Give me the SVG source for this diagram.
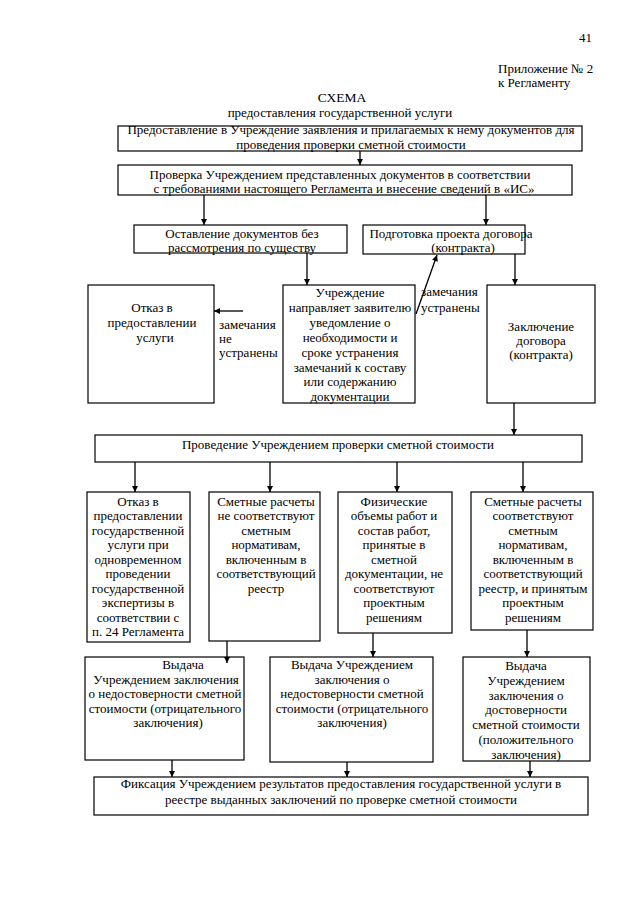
<svg xmlns="http://www.w3.org/2000/svg" width="640" height="905" viewBox="0 0 640 905">
<style>
.bg{fill:#fff}
.box{fill:#fff;stroke:#000;stroke-width:1.2}
.t{font-family:"Liberation Serif","Times New Roman",serif;font-size:13px;fill:#000;text-anchor:middle}
.l{text-anchor:start}
.h{font-family:"Liberation Serif","Times New Roman",serif;font-size:13px;fill:#000}
.c{stroke:#000;stroke-width:1.3;fill:none;marker-end:url(#ah)}
</style>
<defs>
<marker id="ah" viewBox="0 0 10 10" refX="10" refY="5" markerWidth="7" markerHeight="6" markerUnits="userSpaceOnUse" orient="auto">
<path d="M0,0 L10,5 L0,10 z" fill="#000"/>
</marker>
</defs>
<rect class="bg" x="0" y="0" width="640" height="905"/>
<g id="header">
<text class="h" x="592" y="42" text-anchor="end">41</text>
<text class="h" x="498" y="73">Приложение № 2</text>
<text class="h" x="498" y="87">к Регламенту</text>
<text class="h" x="342" y="102" text-anchor="middle" style="font-size:13.5px">СХЕМА</text>
<text class="t" x="340" y="116.5">предоставления государственной услуги</text>
</g>
<g id="n1">
<rect class="box" x="118" y="126" width="464" height="25"/>
<text class="t" x="351" y="134">Предоставление в Учреждение заявления и прилагаемых к нему документов для</text>
<text class="t" x="351" y="148.5">проведения проверки сметной стоимости</text>
</g>
<g id="n2">
<rect class="box" x="118" y="165" width="454" height="30"/>
<text class="t" x="340" y="178.5">Проверка Учреждением представленных документов в соответствии</text>
<text class="t" x="344" y="193">с требованиями настоящего Регламента и внесение сведений в «ИС»</text>
</g>
<g id="n3">
<rect class="box" x="134" y="225" width="213" height="28"/>
<text class="t" x="242" y="237.5">Оставление документов без</text>
<text class="t" x="242" y="252">рассмотрения по существу</text>
</g>
<g id="n4">
<rect class="box" x="363" y="225" width="162" height="29"/>
<text class="t" x="451" y="237.5">Подготовка проекта договора</text>
<text class="t" x="463" y="252">(контракта)</text>
</g>
<g id="n5">
<rect class="box" x="88" y="285" width="126" height="118"/>
<text class="t" x="152" y="312">Отказ в</text>
<text class="t" x="152" y="327">предоставлении</text>
<text class="t" x="155" y="342">услуги</text>
</g>
<g id="n6">
<rect class="box" x="283" y="285" width="132" height="118"/>
<text class="t" x="350" y="297">Учреждение</text>
<text class="t" x="350" y="312">направляет заявителю</text>
<text class="t" x="350" y="327">уведомление о</text>
<text class="t" x="350" y="342">необходимости и</text>
<text class="t" x="350" y="356.8">сроке устранения</text>
<text class="t" x="350" y="371.6">замечаний к составу</text>
<text class="t" x="350" y="386.4">или содержанию</text>
<text class="t" x="350" y="401.2">документации</text>
</g>
<g id="n7">
<rect class="box" x="487" y="285" width="108" height="118"/>
<text class="t" x="541" y="330.6">Заключение</text>
<text class="t" x="541" y="345">договора</text>
<text class="t" x="541" y="359.4">(контракта)</text>
</g>
<g id="labels">
<text class="t l" x="219" y="328.6">замечания</text>
<text class="t l" x="219" y="343">не</text>
<text class="t l" x="219" y="357.4">устранены</text>
<text class="t l" x="421" y="296">замечания</text>
<text class="t l" x="421" y="312">устранены</text>
</g>
<g id="n8">
<rect class="box" x="95" y="435" width="487" height="27"/>
<text class="t" x="338" y="449">Проведение Учреждением проверки сметной стоимости</text>
</g>
<g id="n9">
<rect class="box" x="87" y="492" width="103" height="150"/>
<text class="t" x="138" y="506">Отказ в</text>
<text class="t" x="138" y="520.45">предоставлении</text>
<text class="t" x="138" y="534.9">государственной</text>
<text class="t" x="138" y="549.35">услуги при</text>
<text class="t" x="138" y="563.8">одновременном</text>
<text class="t" x="138" y="578.25">проведении</text>
<text class="t" x="138" y="592.7">государственной</text>
<text class="t" x="138" y="607.15">экспертизы в</text>
<text class="t" x="138" y="621.6">соответствии с</text>
<text class="t" x="138" y="636.05">п. 24 Регламента</text>
</g>
<g id="n10">
<rect class="box" x="209" y="492" width="111" height="149"/>
<text class="t" x="266" y="506">Сметные расчеты</text>
<text class="t" x="266" y="520.45">не соответствуют</text>
<text class="t" x="266" y="534.9">сметным</text>
<text class="t" x="266" y="549.35">нормативам,</text>
<text class="t" x="266" y="563.8">включенным в</text>
<text class="t" x="266" y="578.25">соответствующий</text>
<text class="t" x="266" y="592.7">реестр</text>
</g>
<g id="n11">
<rect class="box" x="338" y="492" width="114" height="141"/>
<text class="t" x="394" y="506">Физические</text>
<text class="t" x="394" y="520.45">объемы работ и</text>
<text class="t" x="394" y="534.9">состав работ,</text>
<text class="t" x="394" y="549.35">принятые в</text>
<text class="t" x="394" y="563.8">сметной</text>
<text class="t" x="394" y="578.25">документации, не</text>
<text class="t" x="394" y="592.7">соответствуют</text>
<text class="t" x="394" y="607.15">проектным</text>
<text class="t" x="394" y="621.6">решениям</text>
</g>
<g id="n12">
<rect class="box" x="471" y="492" width="122" height="138"/>
<text class="t" x="533" y="506">Сметные расчеты</text>
<text class="t" x="533" y="520.45">соответствуют</text>
<text class="t" x="533" y="534.9">сметным</text>
<text class="t" x="533" y="549.35">нормативам,</text>
<text class="t" x="533" y="563.8">включенным в</text>
<text class="t" x="533" y="578.25">соответствующий</text>
<text class="t" x="533" y="592.7">реестр, и принятым</text>
<text class="t" x="533" y="607.15">проектным</text>
<text class="t" x="533" y="621.6">решениям</text>
</g>
<g id="n13">
<rect class="box" x="85" y="657" width="159" height="103"/>
<text class="t" x="183" y="669">Выдача</text>
<text class="t" x="166" y="683.5">Учреждением заключения</text>
<text class="t" x="165" y="698">о недостоверности сметной</text>
<text class="t" x="165" y="712.5">стоимости (отрицательного</text>
<text class="t" x="168" y="727">заключения)</text>
</g>
<g id="n14">
<rect class="box" x="270" y="657" width="163" height="105"/>
<text class="t" x="352" y="669">Выдача Учреждением</text>
<text class="t" x="352" y="683.5">заключения о</text>
<text class="t" x="352" y="698">недостоверности сметной</text>
<text class="t" x="352" y="712.5">стоимости (отрицательного</text>
<text class="t" x="352" y="727">заключения)</text>
</g>
<g id="n15">
<rect class="box" x="463" y="657" width="127" height="104"/>
<text class="t" x="526" y="670">Выдача</text>
<text class="t" x="526" y="684.8">Учреждением</text>
<text class="t" x="526" y="699.6">заключения о</text>
<text class="t" x="526" y="714.4">достоверности</text>
<text class="t" x="526" y="729.2">сметной стоимости</text>
<text class="t" x="526" y="744">(положительного</text>
<text class="t" x="526" y="758.8">заключения)</text>
</g>
<g id="n16">
<rect class="box" x="94" y="777" width="494" height="38"/>
<text class="t" x="341" y="788">Фиксация Учреждением результатов предоставления государственной услуги в</text>
<text class="t" x="341" y="804">реестре выданных заключений по проверке сметной стоимости</text>
</g>
<g id="connectors">
<line class="c" x1="360" y1="151" x2="360" y2="165"/>
<line class="c" x1="204" y1="195" x2="204" y2="225"/>
<line class="c" x1="486" y1="195" x2="486" y2="225"/>
<line class="c" x1="307" y1="253" x2="307" y2="285"/>
<line class="c" x1="515" y1="254" x2="515" y2="285"/>
<line class="c" x1="243" y1="311" x2="214" y2="311"/>
<line class="c" x1="416" y1="314" x2="437" y2="255"/>
<line class="c" x1="514" y1="403" x2="514" y2="435"/>
<line class="c" x1="135" y1="462" x2="135" y2="492"/>
<line class="c" x1="270" y1="462" x2="270" y2="492"/>
<line class="c" x1="397" y1="462" x2="397" y2="492"/>
<line class="c" x1="523" y1="462" x2="523" y2="492"/>
<line class="c" x1="227" y1="641" x2="227" y2="663"/>
<line class="c" x1="373" y1="633" x2="373" y2="657"/>
<line class="c" x1="527" y1="630" x2="527" y2="657"/>
<line class="c" x1="172" y1="760" x2="172" y2="777"/>
<line class="c" x1="347" y1="762" x2="347" y2="777"/>
<line class="c" x1="530" y1="761" x2="530" y2="777"/>
</g>
</svg>
